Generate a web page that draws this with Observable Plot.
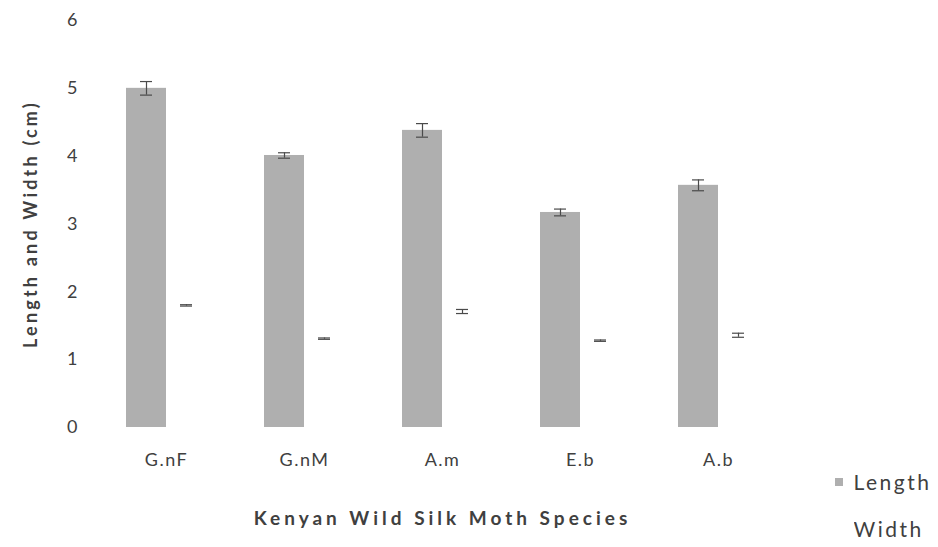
<!DOCTYPE html>
<html>
<head>
<meta charset="utf-8">
<script src="https://cdn.jsdelivr.net/npm/d3@7"></script>
<script src="https://cdn.jsdelivr.net/npm/@observablehq/plot@0.6"></script>
<style>
  html, body { margin: 0; padding: 0; background: #ffffff; }
  #wrap { position: relative; width: 938px; height: 547px; }
  #lg { position: absolute; left: 835px; top: 469px; font-family: Lato, "Open Sans", sans-serif; font-size: 21px; color: #404040; letter-spacing: 2.5px; }
  #lg [class$="-swatch"] { margin-bottom: 21px; }
  svg g[aria-label="fx-axis tick label"] text, svg g[aria-label="fx-axis"] text { letter-spacing: 1.5px; }
</style>
</head>
<body>
<div id="wrap"><div id="chart"></div><div id="lg"></div></div>
<script>
const species = ["G.nF", "G.nM", "A.m", "E.b", "A.b"];
const seriesNames = ["Length", "Width"];
const lengthMean = [5.00, 4.01, 4.38, 3.17, 3.57];
const lengthErr  = [0.10, 0.04, 0.10, 0.05, 0.08];
const widthMean  = [1.80, 1.31, 1.71, 1.28, 1.36];
const widthErr   = [0.01, 0.01, 0.03, 0.01, 0.03];
const yTicks = [0, 1, 2, 3, 4, 5, 6];
const seriesColors = ["#afafaf", "#ffffff"];
const xTitle = "Kenyan Wild Silk Moth Species";
const yTitle = "Length and Width (cm)";

const data = species.flatMap((s, i) => [
  {species: s, series: seriesNames[0], value: lengthMean[i], err: lengthErr[i]},
  {species: s, series: seriesNames[1], value: widthMean[i], err: widthErr[i]}
]);

const errColor = "#4a4a4a";

const plot = Plot.plot({
  width: 938,
  height: 547,
  marginTop: 20,
  marginBottom: 120,
  marginLeft: 97,
  marginRight: 151,
  style: {fontFamily: "Lato, 'Open Sans', sans-serif", fontSize: "18px", color: "#404040", background: "#ffffff"},
  facet: {data, x: "species"},
  fx: {domain: species, axis: "bottom", paddingInner: 0.42, paddingOuter: 0.21, tickSize: 0, tickPadding: 26,
       label: xTitle, labelAnchor: "center", labelOffset: 97},
  x: {domain: seriesNames, axis: null, padding: 0},
  y: {domain: [0, 6], ticks: yTicks, tickSize: 0, tickPadding: 49, tickFormat: d3.format("d"),
      label: yTitle, labelAnchor: "center", labelOffset: 102},
  color: {domain: seriesNames, range: seriesColors},
  marks: [
    Plot.barY(data, {x: "series", y: "value", fill: "series"}),
    Plot.ruleX(data, {x: "series", y1: d => d.value - d.err, y2: d => d.value + d.err, stroke: errColor, strokeWidth: 1.2}),
    Plot.tickY(data, {x: "series", y: d => d.value + d.err, stroke: errColor, strokeWidth: 1.2, insetLeft: 14, insetRight: 14}),
    Plot.tickY(data, {x: "series", y: d => d.value - d.err, stroke: errColor, strokeWidth: 1.2, insetLeft: 14, insetRight: 14})
  ]
});

// style axis titles (bold, spaced, no arrow)
plot.querySelectorAll("text").forEach(t => {
  const s = t.textContent;
  if (s.includes(yTitle)) {
    t.textContent = yTitle;
    t.setAttribute("font-weight", "bold");
    t.setAttribute("letter-spacing", "3.2px");
  } else if (s.includes(xTitle)) {
    t.textContent = xTitle;
    t.setAttribute("font-weight", "bold");
    t.setAttribute("font-size", "19px");
    t.setAttribute("letter-spacing", "4px");
  }
});
document.getElementById("chart").appendChild(plot);

const legend = Plot.legend({
  color: {domain: seriesNames, range: seriesColors},
  legend: "swatches",
  columns: 1,
  swatchSize: 8,
  style: {fontFamily: "Lato, 'Open Sans', sans-serif", fontSize: "21px", color: "#404040"}
});
document.getElementById("lg").appendChild(legend);
</script>
</body>
</html>
